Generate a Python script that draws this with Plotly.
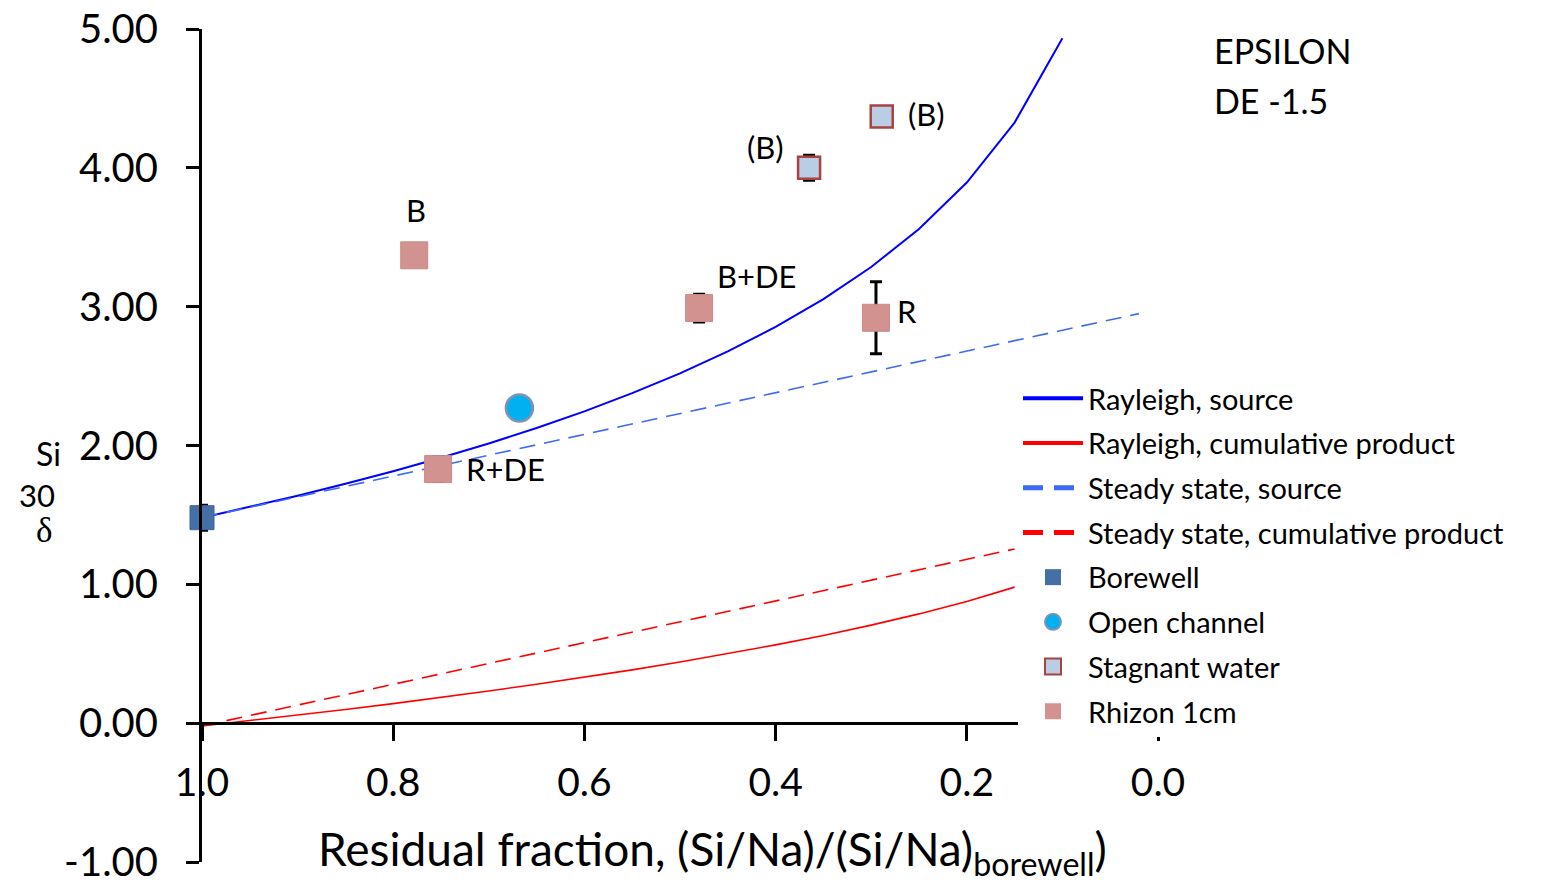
import plotly.graph_objects as go

# ---------------- data ----------------
f_model = [1.0, 0.95, 0.9, 0.85, 0.8, 0.75, 0.7, 0.65, 0.6, 0.55, 0.5,
           0.45, 0.4, 0.35, 0.3, 0.25, 0.2, 0.15, 0.1]
rayleigh_source = [1.48, 1.557, 1.638, 1.724, 1.815, 1.912, 2.015, 2.126, 2.246, 2.377, 2.520,
                   2.678, 2.854, 3.055, 3.286, 3.559, 3.894, 4.326, 4.934]

f_product = [1.0, 0.95, 0.9, 0.85, 0.8, 0.75, 0.7, 0.65, 0.6, 0.55, 0.5,
             0.45, 0.4, 0.35, 0.3, 0.25, 0.2, 0.15]
rayleigh_product = [-0.02, 0.018, 0.058, 0.099, 0.141, 0.185, 0.232, 0.280, 0.331, 0.384, 0.440,
                    0.500, 0.564, 0.632, 0.706, 0.787, 0.877, 0.980]

f_steady_source = [1.0, 0.02]
steady_source = [1.48, 2.95]
f_steady_product = [1.0, 0.15]
steady_product = [-0.02, 1.255]

borewell_f = [1.0]
borewell_d = [1.48]
borewell_err = [0.09]

open_f = [0.668]
open_d = [2.27]
open_err = [0.05]

stagnant_f = [0.365, 0.289]
stagnant_d = [4.00, 4.37]
stagnant_err = [0.09, 0.03]
stagnant_labels = ["(B)", "(B)"]

rhizon_f = [0.778, 0.480, 0.295, 0.753]
rhizon_d = [3.37, 2.99, 2.92, 1.83]
rhizon_err = [0.07, 0.10, 0.26, 0.09]
rhizon_labels = ["B", "B+DE", "R", "R+DE"]

y_ticks = [-1, 0, 1, 2, 3, 4, 5]
y_ticktext = ["-1.00", "0.00", "1.00", "2.00", "3.00", "4.00", "5.00"]
x_ticks = [1.0, 0.8, 0.6, 0.4, 0.2, 0.0]
x_ticktext = ["1.0", "0.8", "0.6", "0.4", "0.2", "0.0"]

# ---------------- layout helpers ----------------
OFF = 8                      # page body margin of the browser
W, H = 1565 - OFF, 885 - OFF
L, R_, T, B_ = 202, 1158, 29, 862   # plot area in screenshot pixels
FONT = "Lato"


def px_x(px):
    return (px - L) / (R_ - L)


def px_y(py):
    return (B_ - py) / (B_ - T)


fig = go.Figure()

# model curves (no legend)
fig.add_trace(go.Scatter(x=f_model, y=rayleigh_source, mode="lines",
                         line=dict(color="#0000FF", width=2), showlegend=False))
fig.add_trace(go.Scatter(x=f_product, y=rayleigh_product, mode="lines",
                         line=dict(color="#FF0000", width=1.6), showlegend=False))
fig.add_trace(go.Scatter(x=f_steady_source, y=steady_source, mode="lines",
                         line=dict(color="#3D6BF2", width=1.6, dash="16px,9px"), showlegend=False))
fig.add_trace(go.Scatter(x=f_steady_product, y=steady_product, mode="lines",
                         line=dict(color="#FF0000", width=1.6, dash="16px,9px"), showlegend=False))

err_style = dict(type="data", color="black", thickness=3, width=6)

fig.add_trace(go.Scatter(x=borewell_f, y=borewell_d, mode="markers", cliponaxis=False,
                         error_y=dict(array=borewell_err, **err_style),
                         marker=dict(symbol="square", size=24, color="#4470A6",
                                     line=dict(color="#3D6598", width=1)), showlegend=False))
fig.add_trace(go.Scatter(x=open_f, y=open_d, mode="markers", cliponaxis=False,
                         error_y=dict(array=open_err, **err_style),
                         marker=dict(symbol="circle", size=27, color="#00B0F0",
                                     line=dict(color="#7F93B8", width=2.5)), showlegend=False))
fig.add_trace(go.Scatter(x=stagnant_f, y=stagnant_d, mode="markers", cliponaxis=False,
                         error_y=dict(array=stagnant_err, **err_style),
                         marker=dict(symbol="square", size=22, color="#B9CDE5",
                                     line=dict(color="#A8433F", width=2.5)), showlegend=False))
fig.add_trace(go.Scatter(x=rhizon_f, y=rhizon_d, mode="markers", cliponaxis=False,
                         error_y=dict(array=rhizon_err, **err_style),
                         marker=dict(symbol="square", size=27, color="#D19290",
                                     line=dict(color="#C98A88", width=1)), showlegend=False))

# legend-only entries
leg = [
    ("Rayleigh, source", dict(mode="lines", line=dict(color="#0000FF", width=4))),
    ("Rayleigh, cumulative product", dict(mode="lines", line=dict(color="#FF0000", width=4))),
    ("Steady state, source", dict(mode="lines", line=dict(color="#3D6BF2", width=5, dash="20px,11px"))),
    ("Steady state, cumulative product", dict(mode="lines", line=dict(color="#FF0000", width=5, dash="20px,11px"))),
    ("Borewell", dict(mode="markers", marker=dict(symbol="square", size=18, color="#4470A6"))),
    ("Open channel", dict(mode="markers", marker=dict(symbol="circle", size=18, color="#00B0F0",
                                                      line=dict(color="#7F93B8", width=2)))),
    ("Stagnant water", dict(mode="markers", marker=dict(symbol="square", size=17, color="#B9CDE5",
                                                        line=dict(color="#A8433F", width=2)))),
    ("Rhizon 1cm", dict(mode="markers", marker=dict(symbol="square", size=18, color="#D19290"))),
]
for i, (name, kw) in enumerate(leg):
    fig.add_trace(go.Scatter(x=[None], y=[None], name=name, legendgroup=f"g{i}", **kw))

annotations = []
# point labels tied to the data points
rh_shift = [(2, 45), (58, 32), (31, 7), (67, 0)]
for f, d, lab, (dx, dy) in zip(rhizon_f, rhizon_d, rhizon_labels, rh_shift):
    annotations.append(dict(x=f, y=d, xref="x", yref="y", text=lab, showarrow=False,
                            xanchor="center", yanchor="middle",
                            xshift=dx, yshift=dy, font=dict(family=FONT, size=31, color="black")))
st_shift = [(-44, 21), (45, 2)]
for f, d, lab, (dx, dy) in zip(stagnant_f, stagnant_d, stagnant_labels, st_shift):
    annotations.append(dict(x=f, y=d, xref="x", yref="y", text=lab, showarrow=False,
                            xanchor="center", yanchor="middle",
                            xshift=dx, yshift=dy, font=dict(family=FONT, size=31, color="black")))

# EPSILON text
annotations.append(dict(x=px_x(1212), y=px_y(50), xref="paper", yref="paper", text="EPSILON",
                        showarrow=False, xanchor="left", yanchor="middle",
                        font=dict(family=FONT, size=34, color="black")))
annotations.append(dict(x=px_x(1212), y=px_y(101), xref="paper", yref="paper", text="DE -1.5",
                        showarrow=False, xanchor="left", yanchor="middle",
                        font=dict(family=FONT, size=34, color="black")))

# x title
annotations.append(dict(x=px_x(712), y=px_y(852), xref="paper", yref="paper",
                        text="Residual fraction, (Si/Na)/(Si/Na)<sub>borewell</sub>)",
                        showarrow=False, xanchor="center", yanchor="middle",
                        font=dict(family=FONT, size=46, color="black")))
# y title (stacked)
annotations.append(dict(x=px_x(48), y=px_y(453), xref="paper", yref="paper", text="Si",
                        showarrow=False, xanchor="center", yanchor="middle",
                        font=dict(family=FONT, size=32, color="black")))
annotations.append(dict(x=px_x(37), y=px_y(495), xref="paper", yref="paper", text="30",
                        showarrow=False, xanchor="center", yanchor="middle",
                        font=dict(family=FONT, size=31, color="black")))
annotations.append(dict(x=px_x(44), y=px_y(530), xref="paper", yref="paper", text="δ",
                        showarrow=False, xanchor="center", yanchor="middle",
                        font=dict(family="Liberation Serif", size=35, color="black")))

fig.update_layout(
    width=W, height=H,
    margin=dict(l=L - OFF, r=W - (R_ - OFF), t=T - OFF, b=H - (B_ - OFF), pad=0, autoexpand=False),
    plot_bgcolor="white", paper_bgcolor="white",
    font=dict(family=FONT, color="black"),
    xaxis=dict(range=[1.0, 0.0], anchor="free", position=1 / 6, automargin=False,
               showline=True, linecolor="black", linewidth=3,
               ticks="outside", ticklen=16, tickwidth=3, tickcolor="black",
               tickvals=x_ticks, ticktext=x_ticktext, ticklabelstandoff=8,
               ticklabeloverflow="allow",
               tickfont=dict(family=FONT, size=39, color="black"),
               showgrid=False, zeroline=False),
    yaxis=dict(range=[-1, 5], automargin=False, showline=True, linecolor="black", linewidth=3,
               ticks="outside", ticklen=13, tickwidth=3, tickcolor="black",
               tickvals=y_ticks, ticktext=y_ticktext, ticklabelstandoff=20,
               ticklabeloverflow="allow",
               tickfont=dict(family=FONT, size=40, color="black"),
               showgrid=False, zeroline=False),
    legend=dict(x=px_x(1018), y=px_y(373), xanchor="left", yanchor="top",
                bgcolor="white", borderwidth=0, itemwidth=60,
                tracegroupgap=4, traceorder="grouped",
                font=dict(family=FONT, size=29, color="black")),
    annotations=annotations,
)

fig.write_html("out.html")
